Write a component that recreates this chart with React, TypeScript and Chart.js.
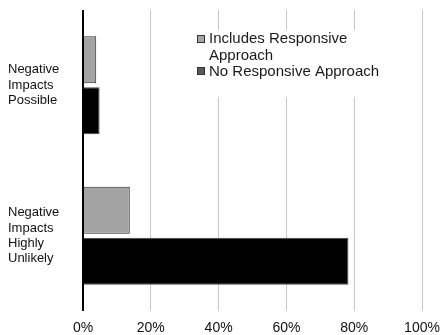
import React, { useEffect, useRef } from "react";
import { Chart, registerables } from "chart.js";

Chart.register(...registerables);

const categories: string[][] = [
  ["Negative", "Impacts", "Possible"],
  ["Negative", "Impacts", "Highly", "Unlikely"],
];
const seriesNames = ["Includes Responsive Approach", "No Responsive Approach"];
const includesValues = [3.9, 13.8];
const noValues = [4.9, 78.3];
const xTicks = [0, 20, 40, 60, 80, 100];

const FONT = "'Liberation Sans', Arial, sans-serif";

const legendPlugin = {
  id: "customLegend",
  afterDraw(chart: any) {
    const ctx = chart.ctx;
    ctx.save();
    ctx.fillStyle = "#ffffff";
    ctx.fillRect(193, 30, 203, 67);
    ctx.font = `15px ${FONT}`;
    ctx.textBaseline = "middle";
    ctx.textAlign = "left";
    const swatches = [
      { y: 35, fill: "#a6a6a6", lines: ["Includes Responsive", "Approach"], ty: [39, 56] },
      { y: 67, fill: "#595959", lines: [seriesNames[1]], ty: [72] },
    ];
    swatches.forEach((s) => {
      ctx.fillStyle = s.fill;
      ctx.fillRect(197, s.y, 8, 8);
      ctx.strokeStyle = "#333";
      ctx.lineWidth = 1;
      ctx.strokeRect(197.5, s.y + 0.5, 7, 7);
      ctx.fillStyle = "#1a1a1a";
      s.lines.forEach((l, i) => ctx.fillText(l, 209, s.ty[i]));
    });
    ctx.restore();
  },
};

export default function App() {
  const ref = useRef<HTMLCanvasElement>(null);
  useEffect(() => {
    if (!ref.current) return;
    const chart = new Chart(ref.current, {
      type: "bar",
      data: {
        labels: categories,
        datasets: [
          {
            label: seriesNames[0],
            data: includesValues,
            backgroundColor: "#a3a3a3",
            borderColor: "#2a2a2a",
            borderWidth: 1,
            barPercentage: 0.92,
            categoryPercentage: 0.68,
          },
          {
            label: seriesNames[1],
            data: noValues,
            backgroundColor: "#000000",
            borderColor: "#444444",
            borderWidth: 1,
            barPercentage: 0.92,
            categoryPercentage: 0.68,
          },
        ],
      },
      options: {
        indexAxis: "y",
        animation: false,
        responsive: false,
        layout: { padding: { top: 10, left: 8, right: 0, bottom: 0 } },
        plugins: { legend: { display: false }, tooltip: { enabled: false } },
        scales: {
          x: {
            min: 0,
            max: 100,
            afterBuildTicks: (scale: any) => {
              scale.ticks = xTicks.map((v) => ({ value: v }));
            },
            afterFit: (scale: any) => {
              scale.height = 24;
              scale.paddingRight = 19;
              scale.paddingLeft = 0;
            },
            border: { display: false },
            grid: {
              color: (c: any) => (c.index === 0 ? "#000000" : "#c8c8c8"),
              lineWidth: (c: any) => (c.index === 0 ? 2 : 1),
              tickLength: 0,
            },
            ticks: {
              padding: 9,
              color: "#111",
              font: { family: FONT, size: 14 },
              callback: (v: any) => v + "%",
            },
          },
          y: {
            afterFit: (scale: any) => {
              scale.width = 75;
              scale.paddingTop = 0;
              scale.paddingBottom = 0;
            },
            border: { display: false },
            grid: { display: false },
            ticks: {
              crossAlign: "far",
              color: "#111",
              font: { family: FONT, size: 13, lineHeight: 1.18 },
            },
          },
        },
      },
      plugins: [legendPlugin],
    } as any);
    return () => chart.destroy();
  }, []);
  return (
    <div style={{ position: "absolute", left: 0, top: 0, width: 441, height: 335, background: "#fff" }}>
      <canvas ref={ref} width={441} height={335} style={{ display: "block" }} />
    </div>
  );
}
